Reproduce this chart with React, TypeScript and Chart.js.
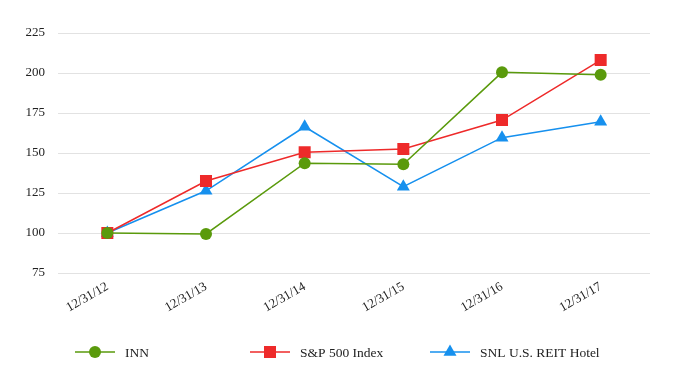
import React, { useEffect, useRef } from "react";
import { Chart, registerables } from "chart.js";

Chart.register(...registerables);

const categories = ["12/31/12", "12/31/13", "12/31/14", "12/31/15", "12/31/16", "12/31/17"];
const innValues = [100, 99.4, 143.6, 142.9, 200.4, 198.9];
const spValues = [100, 132.5, 150.4, 152.5, 170.6, 208.1];
const snlValues = [100, 126.4, 166.4, 128.9, 159.6, 169.6];
const yTicks = [75, 100, 125, 150, 175, 200, 225];

const GREEN = "#5a9a0c";
const RED = "#ee2a2a";
const BLUE = "#1690ee";
const FONT = "'Liberation Serif', 'Times New Roman', serif";

const legendPlugin = {
  id: "customLegend",
  afterDraw(chart: any) {
    const ctx = chart.ctx;
    const starts = [75, 250, 430];
    const y = 352;
    chart.data.datasets.forEach((ds: any, i: number) => {
      const x0 = starts[i];
      ctx.save();
      ctx.strokeStyle = ds.borderColor;
      ctx.lineWidth = 1.5;
      ctx.beginPath();
      ctx.moveTo(x0, y);
      ctx.lineTo(x0 + 40, y);
      ctx.stroke();
      ctx.fillStyle = ds.pointBackgroundColor;
      ctx.beginPath();
      const cx = x0 + 20;
      if (ds.pointStyle === "circle") {
        ctx.arc(cx, y, 6, 0, Math.PI * 2);
      } else if (ds.pointStyle === "rect") {
        ctx.rect(cx - 6, y - 6, 12, 12);
      } else {
        const r = 7.5;
        ctx.moveTo(cx, y - r);
        ctx.lineTo(cx + Math.sin((2 * Math.PI) / 3) * r, y + r / 2);
        ctx.lineTo(cx - Math.sin((2 * Math.PI) / 3) * r, y + r / 2);
        ctx.closePath();
      }
      ctx.fill();
      ctx.fillStyle = "#222";
      ctx.font = `13.5px ${FONT}`;
      ctx.textBaseline = "middle";
      ctx.textAlign = "left";
      ctx.fillText(ds.label, x0 + 50, y + 1);
      ctx.restore();
    });
  },
};

export default function App() {
  const ref = useRef<HTMLCanvasElement>(null);
  useEffect(() => {
    document.body.style.margin = "0";
    const chart = new Chart(ref.current as HTMLCanvasElement, {
      type: "line",
      data: {
        labels: categories,
        datasets: [
          {
            label: "INN",
            data: innValues,
            borderColor: GREEN,
            backgroundColor: GREEN,
            pointBackgroundColor: GREEN,
            pointBorderColor: GREEN,
            pointStyle: "circle",
            pointRadius: 6,
            borderWidth: 1.5,
            pointBorderWidth: 0,
          },
          {
            label: "S&P 500 Index",
            data: spValues,
            borderColor: RED,
            backgroundColor: RED,
            pointBackgroundColor: RED,
            pointBorderColor: RED,
            pointStyle: "rect",
            pointRadius: 8.5,
            borderWidth: 1.5,
            pointBorderWidth: 0,
          },
          {
            label: "SNL U.S. REIT Hotel",
            data: snlValues,
            borderColor: BLUE,
            backgroundColor: BLUE,
            pointBackgroundColor: BLUE,
            pointBorderColor: BLUE,
            pointStyle: "triangle",
            pointRadius: 7.5,
            borderWidth: 1.5,
            pointBorderWidth: 0,
          },
        ],
      },
      options: {
        animation: false,
        responsive: false,
        maintainAspectRatio: false,
        layout: { padding: { left: 0, right: 32, top: 33, bottom: 66 } },
        plugins: {
          legend: { display: false },
          tooltip: { enabled: false },
        },
        scales: {
          x: {
            offset: true,
            grid: { display: false, drawTicks: false },
            border: { display: false },
            ticks: {
              font: { family: FONT, size: 13 },
              color: "#222",
              minRotation: 30,
              maxRotation: 30,
              padding: 6,
            },
            afterFit: (s: any) => {
              s.height = 50;
            },
          },
          y: {
            min: 75,
            max: 225,
            afterBuildTicks: (s: any) => {
              s.ticks = yTicks.map((v) => ({ value: v }));
            },
            grid: { color: "#e2e2e2", drawTicks: false, lineWidth: 1 },
            border: { display: false },
            ticks: {
              font: { family: FONT, size: 13 },
              color: "#222",
              padding: 13,
            },
            afterFit: (s: any) => {
              s.width = 58;
            },
          },
        },
      },
      plugins: [legendPlugin],
    });
    return () => chart.destroy();
  }, []);
  return (
    <div style={{ width: 682, height: 389 }}>
      <canvas ref={ref} width={682} height={389} style={{ width: 682, height: 389 }} />
    </div>
  );
}
